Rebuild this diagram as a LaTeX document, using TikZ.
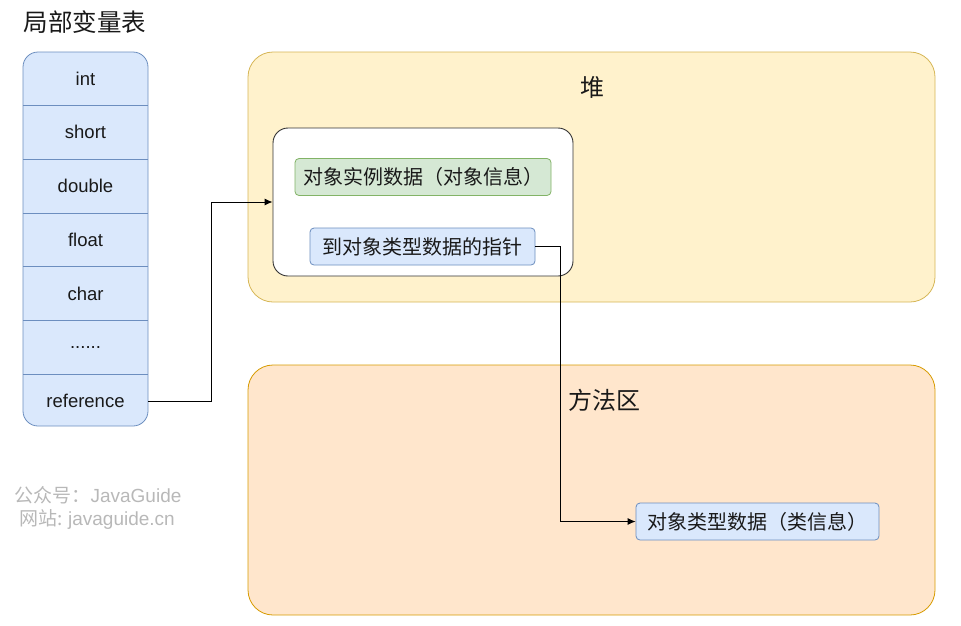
\documentclass[tikz,border=0pt]{standalone}
\usepackage{fontspec}
\setmainfont{Liberation Sans}
\newfontfamily\cjk{Noto Sans CJK SC}
\usepackage{xcolor}
\usetikzlibrary{arrows.meta,positioning}
\definecolor{heapfill}{HTML}{FFF2CC}
\definecolor{heapline}{HTML}{D6B656}
\definecolor{methfill}{HTML}{FFE6CC}
\definecolor{methline}{HTML}{D79B00}
\definecolor{bluefill}{HTML}{DAE8FC}
\definecolor{blueline}{HTML}{6C8EBF}
\definecolor{greenfill}{HTML}{D5E8D4}
\definecolor{greenline}{HTML}{82B366}
\definecolor{markgray}{HTML}{B8B8B8}
\tikzset{
  area/.style={rounded corners=25pt, line width=0.8pt, inner sep=0pt, minimum width=687pt, minimum height=250pt},
  heapbox/.style={area, draw=heapline, fill=heapfill},
  methbox/.style={area, draw=methline, fill=methfill},
  areatitle/.style={font=\cjk\fontsize{24}{28}\selectfont, text=black!90},
  objbox/.style={draw=black!80, fill=white, line width=0.9pt, rounded corners=15pt, inner sep=0pt, minimum width=300pt, minimum height=148pt},
  cell/.style={rounded corners=4pt, line width=0.8pt, inner sep=0pt, minimum height=37pt, font=\cjk\fontsize{20}{24}\selectfont, text=black!90},
  bcell/.style={cell, draw=blueline, fill=bluefill},
  gcell/.style={cell, draw=greenline, fill=greenfill},
  stackbox/.style={draw=blueline, fill=bluefill, line width=0.8pt, rounded corners=15pt, inner sep=0pt, minimum width=125pt, minimum height=374pt},
  slot/.style={inner sep=0pt, minimum width=125pt, minimum height=53.4pt, font=\fontsize{18.5}{22}\selectfont, text=black!90},
  sep/.style={draw=blueline, line width=0.8pt},
  wmark/.style={font=\cjk\fontsize{19}{22}\selectfont, text=markgray},
  farr/.style={-{Latex[length=8pt,width=7pt]}, line width=0.9pt, black}
}

\begin{document}
\begin{tikzpicture}[x=1pt,y=-1pt]
\useasboundingbox (0,0) rectangle (961,625);
% regions
\node[heapbox] (heap) at (591.5,177) {};
\node[areatitle] (heaplbl) at (592,87) {堆};
\node[methbox] (meth) at (591.5,490) {};
\node[areatitle] (methlbl) at (604,400) {方法区};
% object in heap
\node[objbox] (obj) at (423,202) {};
\node[gcell, minimum width=256pt] (inst) at (423,177) {对象实例数据（对象信息）};
\node[bcell, minimum width=225pt] (ptr) at (422.5,246.5) {到对象类型数据的指针};
% class data
\node[bcell, minimum width=243pt] (klass) at (757.5,521.5) {对象类型数据（类信息）};
% local variable table
\node[font=\cjk\fontsize{24.5}{28}\selectfont, text=black!90] (title) at (85,22) {局部变量表};
\node[stackbox] (stack) at (85.5,239) {};
\node[slot, below=0pt of stack.north] (s1) {int};
\node[slot, below=0pt of s1] (s2) {short};
\node[slot, below=0pt of s2] (s3) {double};
\node[slot, below=0pt of s3] (s4) {float};
\node[slot, below=0pt of s4] (s5) {char};
\node[slot, below=0pt of s5] (s6) {......};
\node[slot, below=0pt of s6] (s7) {reference};
\draw[sep] (s1.south west) -- (s1.south east);
\draw[sep] (s2.south west) -- (s2.south east);
\draw[sep] (s3.south west) -- (s3.south east);
\draw[sep] (s4.south west) -- (s4.south east);
\draw[sep] (s5.south west) -- (s5.south east);
\draw[sep] (s6.south west) -- (s6.south east);
% watermark
\node[wmark] (wm1) at (98,495) {公众号：{\rmfamily JavaGuide}};
\node[wmark] (wm2) at (97,519) {网站: {\rmfamily javaguide.cn}};
% pointers
\draw[farr] (s7.east) -- ++(63,0) |- (obj.west);
\draw[farr] (ptr.east) -- ++(25,0) |- (klass.west);
\end{tikzpicture}
\end{document}
